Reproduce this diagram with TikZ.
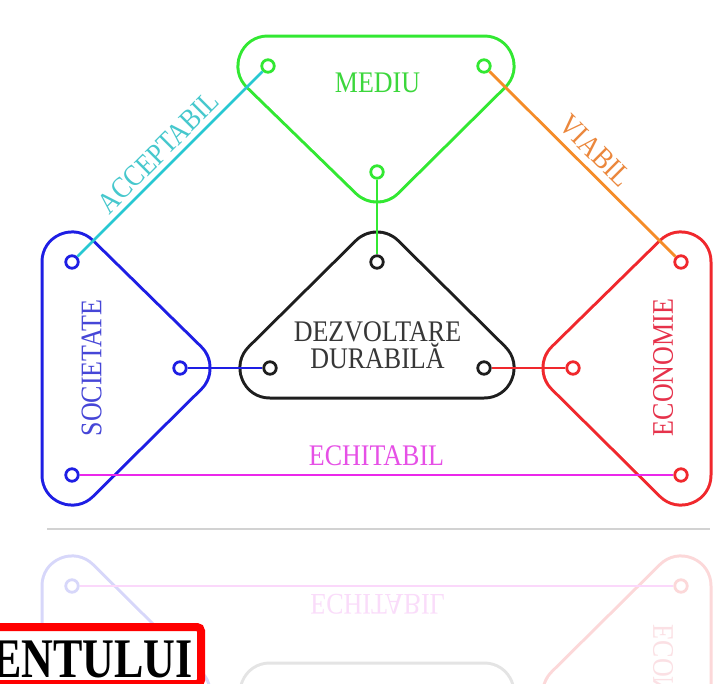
\documentclass[tikz,border=0pt]{standalone}
\usepackage{fontspec}
\setmainfont{Liberation Serif}
\definecolor{cGreen}{RGB}{50,232,50}
\definecolor{cGreenT}{RGB}{60,215,60}
\definecolor{cBlue}{RGB}{30,30,228}
\definecolor{cBlueT}{RGB}{70,70,215}
\definecolor{cRed}{RGB}{240,40,45}
\definecolor{cRedT}{RGB}{230,50,75}
\definecolor{cBlack}{RGB}{30,30,30}
\definecolor{cBlackT}{RGB}{55,55,55}
\definecolor{cCyan}{RGB}{40,200,210}
\definecolor{cCyanT}{RGB}{70,200,205}
\definecolor{cOrange}{RGB}{245,140,40}
\definecolor{cOrangeT}{RGB}{235,135,60}
\definecolor{cMag}{RGB}{235,40,235}
\definecolor{cMagT}{RGB}{230,80,230}
\definecolor{cTitle}{RGB}{255,0,0}
\newcommand\tallt[1]{\scalebox{1}[1.15]{#1}}
\newcommand\drawhull[4]{%
  \path[hullout=#1] (#2) -- (#3) -- (#4) -- cycle;
  \path[hullin] (#2) -- (#3) -- (#4) -- cycle;}
\tikzset{
  hullout/.style={draw=#1, line width=63pt, line join=round},
  hullin/.style={draw=white, fill=white, line width=57pt, line join=round},
  dot/.style={circle, draw=#1, line width=2.8pt, fill=white, minimum size=12.5pt, inner sep=0pt},
  link/.style={draw=#1, line width=2.8pt},
  lbl/.style={text=#1, font=\fontsize{26}{28}\selectfont, inner sep=0pt},
}
\begin{document}
\begin{tikzpicture}[x=1pt,y=-1pt]
\useasboundingbox (0,0) rectangle (728,683);
\fill[white] (0,0) rectangle (728,683);

% ---------- reflection ----------
\begin{scope}[shift={(0,1061)}, yscale=-1]
  \coordinate (rK1) at (377,262); \coordinate (rK2) at (270,368); \coordinate (rK3) at (484,368);
  \coordinate (rB1) at (72,262);  \coordinate (rB2) at (180,368); \coordinate (rB3) at (72,475);
  \coordinate (rR1) at (681,262); \coordinate (rR2) at (573,368); \coordinate (rR3) at (681,475);
  \drawhull{cBlack!12}{rK1}{rK2}{rK3}
  \drawhull{cBlue!18}{rB1}{rB2}{rB3}
  \drawhull{cRed!18}{rR1}{rR2}{rR3}
  \node[dot=cBlue!18] (rb3) at (rB3) {};
  \node[dot=cRed!18] (rr3) at (rR3) {};
  \draw[link=cMag!18] (rb3) -- (rr3);
  \node[lbl=cMagT!20, transform shape, anchor=base] (rechi) at (378,466.5) {\tallt{ECHITABIL}};
  \node[lbl=cRedT!15, transform shape, rotate=90] (reco) at (663,367.5) {\tallt{ECONOMIE}};
\end{scope}

\draw[gray!35, line width=1.2pt] (47,529) -- (710,529);

% ---------- main diagram ----------
\coordinate (G1) at (268,66);  \coordinate (G2) at (484,66);  \coordinate (G3) at (377,172);
\coordinate (K1) at (377,262); \coordinate (K2) at (270,368); \coordinate (K3) at (484,368);
\coordinate (B1) at (72,262);  \coordinate (B2) at (180,368); \coordinate (B3) at (72,475);
\coordinate (R1) at (681,262); \coordinate (R2) at (573,368); \coordinate (R3) at (681,475);

\drawhull{cGreen}{G1}{G2}{G3}
\drawhull{cBlack}{K1}{K2}{K3}
\drawhull{cBlue}{B1}{B2}{B3}
\drawhull{cRed}{R1}{R2}{R3}

\node[dot=cGreen] (g1) at (G1) {};
\node[dot=cGreen] (g2) at (G2) {};
\node[dot=cGreen] (g3) at (G3) {};
\node[dot=cBlack] (k1) at (K1) {};
\node[dot=cBlack] (k2) at (K2) {};
\node[dot=cBlack] (k3) at (K3) {};
\node[dot=cBlue] (b1) at (B1) {};
\node[dot=cBlue] (b2) at (B2) {};
\node[dot=cBlue] (b3) at (B3) {};
\node[dot=cRed] (r1) at (R1) {};
\node[dot=cRed] (r2) at (R2) {};
\node[dot=cRed] (r3) at (R3) {};

\draw[link=cCyan] (b1) -- node[sloped, above, lbl=cCyanT, inner sep=5pt] (acc) {\tallt{ACCEPTABIL}} (g1);
\draw[link=cOrange] (g2) -- node[sloped, above, lbl=cOrangeT, inner sep=7pt] (via) {\tallt{VIABIL}} (r1);
\draw[link=cGreen] (g3) -- (k1);
\draw[link=cBlue] (b2) -- (k2);
\draw[link=cRed] (k3) -- (r2);
\draw[link=cMag] (b3) -- node[above, lbl=cMagT, inner sep=8pt] (echi) {\tallt{ECHITABIL}} (r3);

\node[lbl=cGreenT, anchor=base] (med) at (377.5,92.5) {\tallt{MEDIU}};
\node[lbl=cBlackT, anchor=base] (dez) at (377.5,341.5) {\tallt{DEZVOLTARE}};
\node[lbl=cBlackT, anchor=base] (dur) at (377.5,368.5) {\tallt{DURABILĂ}};
\node[lbl=cBlueT, rotate=90] (soc) at (91.7,368) {\tallt{SOCIETATE}};
\node[lbl=cRedT, rotate=90] (eco) at (663,367.5) {\tallt{ECONOMIE}};

% ---------- title fragment ----------
\draw[cTitle, line width=8pt, rounded corners=4pt, fill=white] (-12,627) rectangle (201,684);
\node[anchor=base east, font=\fontsize{44}{44}\selectfont\bfseries, inner sep=0pt] (title) at (193,677) {\scalebox{1}[1.27]{ENTULUI}};
\end{tikzpicture}
\end{document}
